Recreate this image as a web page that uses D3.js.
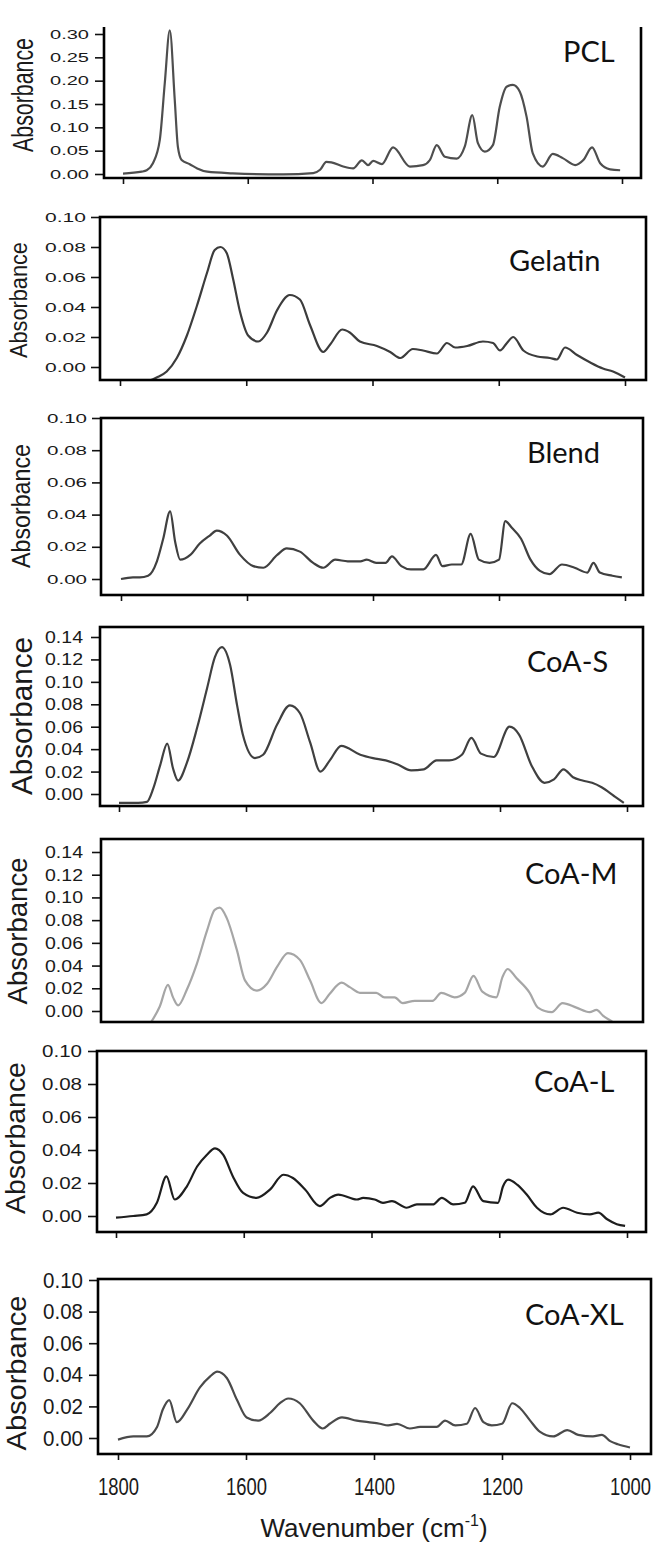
<!DOCTYPE html>
<html><head><meta charset="utf-8">
<script src="https://cdn.jsdelivr.net/npm/d3@7"></script>
<style>body{margin:0;background:#fff}</style>
</head><body><svg id="c" width="660" height="1551"></svg>
<script>
const xTicks=[1800,1600,1400,1200,1000];
const yTicks30=[0,0.05,0.10,0.15,0.20,0.25,0.30];
const yTicks10=[0,0.02,0.04,0.06,0.08,0.10];
const yTicks14=[0,0.02,0.04,0.06,0.08,0.10,0.12,0.14];
const panelNames=["PCL","Gelatin","Blend","CoA-S","CoA-M","CoA-L","CoA-XL"];

const pclWn=[1800,1770,1762,1752,1741,1733,1725,1717,1712,1706,1693,1681,1665,1624,1543,1495,1484,1474,1466,1447,1431,1417,1407,1399,1385,1367,1340,1319,1308,1297,1284,1265,1252,1240,1231,1220,1207,1196,1185,1175,1164,1153,1143,1127,1111,1095,1075,1062,1048,1035,1019,1003];
const pclAbs=[0.001,0.005,0.008,0.023,0.073,0.195,0.308,0.158,0.058,0.030,0.021,0.012,0.005,0.0015,-0.001,0.002,0.009,0.026,0.025,0.016,0.012,0.029,0.019,0.028,0.021,0.057,0.016,0.019,0.030,0.062,0.037,0.033,0.059,0.126,0.066,0.048,0.062,0.144,0.187,0.191,0.177,0.123,0.044,0.016,0.043,0.034,0.019,0.030,0.057,0.023,0.010,0.008];

const gelWn=[1800,1770,1742,1726,1710,1694,1678,1662,1650,1641,1631,1621,1610,1597,1581,1567,1551,1531,1515,1499,1478,1467,1448,1436,1420,1393,1372,1356,1336,1320,1298,1282,1269,1250,1225,1209,1198,1187,1177,1161,1139,1119,1108,1095,1076,1055,1035,1019,1000];
const gelAbs=[-0.012,-0.011,-0.007,-0.003,0.006,0.021,0.041,0.063,0.078,0.080,0.076,0.059,0.037,0.021,0.017,0.023,0.038,0.048,0.045,0.028,0.010,0.015,0.025,0.023,0.017,0.014,0.010,0.006,0.012,0.011,0.009,0.016,0.013,0.014,0.017,0.016,0.011,0.016,0.020,0.011,0.007,0.006,0.005,0.013,0.008,0.003,-0.001,-0.003,-0.007];

const blendWn=[1800,1781,1770,1757,1743,1733,1722,1714,1706,1690,1675,1659,1648,1632,1611,1590,1574,1552,1537,1516,1495,1479,1460,1440,1420,1410,1395,1380,1370,1355,1340,1320,1300,1290,1275,1260,1245,1232,1215,1200,1190,1180,1165,1150,1135,1120,1100,1080,1060,1050,1040,1020,1005];
const blendAbs=[0.000,0.001,0.001,0.002,0.011,0.025,0.042,0.023,0.012,0.015,0.022,0.027,0.030,0.027,0.015,0.008,0.007,0.015,0.019,0.017,0.010,0.007,0.012,0.011,0.011,0.012,0.010,0.010,0.014,0.008,0.006,0.006,0.015,0.008,0.009,0.009,0.028,0.012,0.010,0.012,0.036,0.032,0.025,0.012,0.005,0.003,0.009,0.007,0.004,0.010,0.004,0.002,0.001];

const coaSWn=[1800,1770,1756,1746,1735,1724,1715,1707,1693,1677,1661,1649,1638,1625,1614,1605,1586,1573,1551,1531,1515,1499,1483,1468,1450,1420,1400,1380,1360,1340,1320,1300,1280,1260,1245,1230,1210,1185,1170,1150,1130,1115,1100,1085,1070,1055,1040,1020,1005];
const coaSAbs=[-0.008,-0.008,-0.007,0.005,0.026,0.045,0.023,0.012,0.028,0.059,0.095,0.122,0.131,0.115,0.079,0.053,0.032,0.035,0.062,0.079,0.072,0.046,0.020,0.030,0.043,0.035,0.032,0.030,0.026,0.021,0.022,0.030,0.030,0.035,0.050,0.036,0.033,0.060,0.053,0.025,0.010,0.013,0.022,0.015,0.012,0.010,0.006,-0.002,-0.008];

const coaMWn=[1765,1751,1737,1724,1716,1708,1694,1678,1662,1650,1642,1631,1615,1602,1583,1567,1551,1534,1515,1499,1481,1468,1449,1436,1420,1405,1394,1381,1365,1352,1333,1305,1291,1270,1254,1240,1226,1204,1194,1186,1172,1151,1138,1116,1099,1077,1056,1045,1035,1019,1005];
const coaMAbs=[-0.020,-0.010,0.004,0.023,0.012,0.005,0.019,0.042,0.071,0.089,0.091,0.082,0.054,0.027,0.018,0.024,0.039,0.051,0.045,0.027,0.007,0.015,0.025,0.021,0.016,0.016,0.016,0.012,0.012,0.007,0.009,0.009,0.016,0.012,0.016,0.031,0.017,0.012,0.030,0.037,0.029,0.016,0.003,-0.001,0.007,0.003,-0.001,0.001,-0.004,-0.010,-0.016];

const coaLWn=[1800,1773,1752,1736,1721,1708,1689,1673,1658,1645,1632,1617,1601,1580,1559,1538,1523,1504,1481,1465,1452,1423,1413,1395,1382,1368,1345,1329,1304,1290,1272,1254,1241,1225,1202,1194,1186,1172,1157,1141,1120,1100,1078,1058,1045,1031,1016,1003];
const coaLAbs=[-0.001,0.000,0.001,0.008,0.024,0.010,0.018,0.030,0.037,0.041,0.037,0.024,0.014,0.011,0.016,0.025,0.023,0.016,0.006,0.011,0.013,0.010,0.011,0.010,0.008,0.009,0.005,0.007,0.007,0.011,0.007,0.008,0.018,0.009,0.008,0.018,0.022,0.019,0.013,0.005,0.001,0.005,0.002,0.001,0.002,-0.002,-0.005,-0.006];

const coaXLWn=[1800,1776,1755,1739,1730,1720,1708,1692,1672,1656,1645,1630,1614,1599,1581,1562,1547,1534,1516,1495,1480,1469,1450,1427,1409,1391,1378,1364,1344,1328,1302,1289,1273,1255,1242,1229,1216,1200,1184,1172,1156,1141,1120,1098,1081,1058,1044,1031,1019,1000];
const coaXLAbs=[-0.001,0.001,0.001,0.007,0.018,0.024,0.010,0.018,0.032,0.039,0.042,0.038,0.024,0.013,0.011,0.016,0.022,0.025,0.022,0.011,0.006,0.009,0.013,0.011,0.010,0.009,0.008,0.009,0.006,0.007,0.007,0.011,0.008,0.009,0.019,0.010,0.008,0.009,0.022,0.019,0.011,0.004,0.001,0.005,0.002,0.001,0.002,-0.002,-0.004,-0.006];

const panels=[
 {wn:pclWn,ab:pclAbs,yt:yTicks30,vTop:0.30,yZero:174,yTopPx:34,left:104,right:641,top:27,bottom:178,x18:123,x10:622,topLine:false,xt:true,
  color:"#4e4e4e",tf:13,tw:39,tgap:15,af:29,al:114,ax:33,ay:95,lx:563,ly:62},
 {wn:gelWn,ab:gelAbs,yt:yTicks10,vTop:0.10,yZero:367,yTopPx:217,left:100,right:646,top:217,bottom:380,x18:120,x10:625,topLine:true,xt:true,
  color:"#3c3c3c",tf:12.5,tw:41,tgap:14,af:24,al:116,ax:27,ay:300,lx:509,ly:271},
 {wn:blendWn,ab:blendAbs,yt:yTicks10,vTop:0.10,yZero:579,yTopPx:418,left:101,right:643,top:418,bottom:595,x18:121,x10:625,topLine:true,xt:true,
  color:"#404040",tf:12.5,tw:40,tgap:14,af:25,al:124,ax:30,ay:506,lx:527,ly:463},
 {wn:coaSWn,ab:coaSAbs,yt:yTicks14,vTop:0.14,yZero:794,yTopPx:637,left:100,right:643,top:627,bottom:806,x18:119,x10:627,topLine:true,xt:true,
  color:"#404040",tf:17,tw:38,tgap:17,af:29,al:158,ax:32,ay:716,lx:527,ly:672},
 {wn:coaMWn,ab:coaMAbs,yt:yTicks14,vTop:0.14,yZero:1011,yTopPx:852,left:101,right:643,top:839,bottom:1022,x18:120,x10:625,topLine:true,xt:false,
  color:"#a6a6a6",tf:17,tw:38,tgap:18,af:27,al:147,ax:27,ay:931,lx:525,ly:884},
 {wn:coaLWn,ab:coaLAbs,yt:yTicks10,vTop:0.10,yZero:1216,yTopPx:1051,left:97,right:646,top:1051,bottom:1232,x18:116,x10:627,topLine:true,xt:true,
  color:"#1e1e1e",tf:17,tw:40,tgap:15,af:27,al:152,ax:25,ay:1138,lx:534,ly:1092},
 {wn:coaXLWn,ab:coaXLAbs,yt:yTicks10,vTop:0.10,yZero:1438,yTopPx:1280,left:98,right:651,top:1279,bottom:1454,x18:118,x10:630,topLine:true,xt:true,
  color:"#4a4a4a",tf:22,tw:40,tgap:15,af:27,al:155,ax:26,ay:1373,lx:525,ly:1325}
];

const svg=d3.select("#c");
const AX="Liberation Sans, Arial, sans-serif";
const fmt=d3.format(".2f");

// scale a text element along its baseline so that its length equals len
function fitLen(sel,len,pre){
  sel.each(function(){
    const n=this.getComputedTextLength();
    const s=n>0?len/n:1;
    d3.select(this).attr("transform",`${pre||""} scale(${s},1)`);
  });
}

panels.forEach((p,i)=>{
  const x=d3.scaleLinear().domain([1800,1000]).range([p.x18,p.x10]);
  const y=d3.scaleLinear().domain([0,p.vTop]).range([p.yZero,p.yTopPx]);
  const g=svg.append("g");
  const cid="clip"+i;
  svg.append("clipPath").attr("id",cid).append("rect")
    .attr("x",p.left).attr("y",p.top).attr("width",p.right-p.left).attr("height",p.bottom-p.top);
  const data=p.wn.map((w,k)=>[w,p.ab[k]]);
  const line=d3.line().x(d=>x(d[0])).y(d=>y(d[1])).curve(d3.curveMonotoneX);
  g.append("path").datum(data).attr("d",line).attr("clip-path",`url(#${cid})`)
    .attr("fill","none").attr("stroke",p.color).attr("stroke-width",2.2).attr("stroke-linejoin","round");

  // y axis
  const ya=g.append("g").attr("transform",`translate(${p.left},0)`)
    .call(d3.axisLeft(y).tickValues(p.yt).tickFormat(fmt).tickSize(9).tickSizeOuter(0));
  ya.select(".domain").remove();
  ya.selectAll(".tick line").attr("stroke","#111").attr("stroke-width",1.6);
  const yt=ya.selectAll(".tick text").attr("x",0).attr("font-family",AX).attr("font-size",p.tf)
    .attr("fill","#1a1a1a");
  fitLen(yt,p.tw,`translate(${-p.tgap},0)`);

  // x axis ticks
  if(p.xt){
    const last=(i===panels.length-1);
    const xa=g.append("g").attr("transform",`translate(0,${p.bottom})`)
      .call(d3.axisBottom(x).tickValues(xTicks).tickFormat(last?d3.format("d"):"").tickSize(6).tickSizeOuter(0));
    xa.select(".domain").remove();
    xa.selectAll(".tick line").attr("stroke","#111").attr("stroke-width",1.6);
    if(last){
      const xt=xa.selectAll(".tick text").attr("y",0).attr("dy",0).attr("font-family",AX).attr("font-size",23.5)
        .attr("fill","#1a1a1a");
      fitLen(xt,41,"translate(0,41)");
    }
  }

  // frame
  const fr=g.append("g").attr("fill","none").attr("stroke","#000").attr("stroke-width",2.6);
  if(p.topLine){
    fr.append("rect").attr("x",p.left).attr("y",p.top).attr("width",p.right-p.left).attr("height",p.bottom-p.top);
  } else {
    fr.append("path").attr("d",`M${p.left},${p.top}V${p.bottom}H${p.right}V${p.top}`);
  }

  // Absorbance label
  const al=g.append("text").attr("text-anchor","middle").attr("font-family",AX).attr("font-size",p.af)
    .attr("fill","#1a1a1a").text("Absorbance");
  fitLen(al,p.al,`translate(${p.ax},${p.ay}) rotate(-90)`);

  // panel name
  g.append("text").attr("x",p.lx).attr("y",p.ly).attr("font-family","Lato, 'Open Sans', sans-serif")
    .attr("font-size",29).attr("fill","#111").text(panelNames[i]);
});

// x axis title
const t=svg.append("text").attr("x",374).attr("y",1537).attr("text-anchor","middle")
  .attr("font-family",AX).attr("font-size",26).attr("fill","#1a1a1a");
t.append("tspan").text("Wavenumber (cm");
t.append("tspan").attr("font-size",16).attr("dy",-11).text("-1");
t.append("tspan").attr("dy",11).text(")");
</script></body></html>
